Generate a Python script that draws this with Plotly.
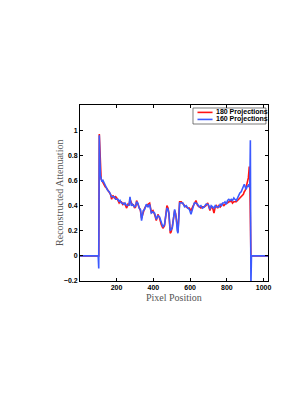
import plotly.graph_objects as go

# Pixel positions and reconstructed attenuation values
pixels = [1, 97, 100, 103, 106, 109, 112, 116, 120, 126,
          132, 138, 145, 152, 160, 167, 173, 180, 188, 195,
          201, 208, 214, 219, 226, 233, 240, 246, 255, 262,
          268, 273, 280, 287, 291, 298, 304, 309, 316, 323,
          330, 336, 345, 353, 362, 371, 380, 389, 398, 407,
          416, 425, 434, 443, 452, 461, 467, 474, 480, 485,
          492, 497, 503, 510, 516, 521, 525, 530, 534, 538,
          543, 552, 561, 570, 579, 588, 596, 605, 614, 623,
          632, 641, 650, 659, 668, 677, 686, 696, 702, 708,
          715, 723, 730, 737, 744, 750, 757, 764, 771, 777,
          784, 790, 797, 804, 811, 817, 824, 831, 838, 844,
          851, 858, 864, 871, 878, 884, 890, 895, 900, 904,
          908, 913, 917, 920, 922, 925, 928, 931, 934, 1024]

proj_180 = [0, 0, 0, 0.0, 0.97, 0.80, 0.66, 0.61, 0.60, 0.58,
            0.57, 0.55, 0.54, 0.52, 0.50, 0.49, 0.45, 0.48, 0.46, 0.47,
            0.46, 0.44, 0.42, 0.43, 0.43, 0.41, 0.42, 0.41, 0.38, 0.41,
            0.40, 0.45, 0.42, 0.40, 0.41, 0.38, 0.39, 0.44, 0.41, 0.39,
            0.36, 0.30, 0.35, 0.38, 0.40, 0.41, 0.42, 0.35, 0.36, 0.33,
            0.28, 0.33, 0.30, 0.25, 0.22, 0.24, 0.34, 0.40, 0.38, 0.33,
            0.18, 0.19, 0.23, 0.32, 0.36, 0.34, 0.29, 0.22, 0.19, 0.30,
            0.43, 0.43, 0.41, 0.40, 0.39, 0.38, 0.38, 0.36, 0.39, 0.41,
            0.44, 0.40, 0.39, 0.38, 0.39, 0.39, 0.40, 0.42, 0.39, 0.36,
            0.39, 0.38, 0.34, 0.39, 0.40, 0.38, 0.40, 0.39, 0.41, 0.41,
            0.40, 0.41, 0.42, 0.42, 0.43, 0.43, 0.44, 0.42, 0.43, 0.43,
            0.43, 0.44, 0.45, 0.46, 0.47, 0.48, 0.49, 0.51, 0.52, 0.54,
            0.56, 0.58, 0.62, 0.67, 0.71, 0.60, 0.0, 0.0, 0.0, 0.0]

proj_160 = [0, 0, 0, -0.10, 0.96, 0.78, 0.64, 0.62, 0.59, 0.60,
            0.58, 0.56, 0.53, 0.52, 0.51, 0.48, 0.47, 0.47, 0.47, 0.45,
            0.45, 0.45, 0.43, 0.44, 0.42, 0.42, 0.41, 0.42, 0.40, 0.40,
            0.41, 0.47, 0.40, 0.41, 0.40, 0.39, 0.40, 0.43, 0.42, 0.38,
            0.37, 0.28, 0.36, 0.37, 0.41, 0.39, 0.41, 0.34, 0.35, 0.34,
            0.29, 0.32, 0.31, 0.26, 0.23, 0.25, 0.32, 0.38, 0.37, 0.34,
            0.20, 0.21, 0.22, 0.30, 0.37, 0.33, 0.30, 0.20, 0.18, 0.28,
            0.42, 0.42, 0.42, 0.39, 0.40, 0.38, 0.37, 0.33, 0.38, 0.42,
            0.42, 0.41, 0.39, 0.40, 0.38, 0.39, 0.41, 0.41, 0.40, 0.37,
            0.40, 0.39, 0.38, 0.40, 0.39, 0.39, 0.39, 0.41, 0.40, 0.42,
            0.42, 0.43, 0.41, 0.44, 0.45, 0.44, 0.45, 0.44, 0.46, 0.45,
            0.44, 0.46, 0.48, 0.50, 0.51, 0.53, 0.55, 0.57, 0.55, 0.53,
            0.54, 0.56, 0.55, 0.57, 0.55, 0.55, 0.92, -0.25, 0.0, 0.0]

series_names = ["180 Projections", "160 Projections"]
series_colors = ["rgb(255,20,20)", "rgb(60,90,255)"]
x_ticks = [200, 400, 600, 800, 1000]
y_ticks = [-0.2, 0, 0.2, 0.4, 0.6, 0.8, 1]
y_tick_labels = ["\u22120.2", "0", "0.2", "0.4", "0.6", "0.8", "1"]

assert len(pixels) == len(proj_180) == len(proj_160)

fig = go.Figure()
for name, vals, col in zip(series_names, [proj_180, proj_160], series_colors):
    fig.add_trace(go.Scatter(x=pixels, y=vals, mode="lines", name=name,
                             line=dict(color=col, width=1.6), showlegend=False))

tickfont = dict(family="Liberation Sans, Arial, sans-serif", size=7, color="black", weight="bold")
legfont = dict(family="Liberation Sans, Arial, sans-serif", size=7, color="black", weight="bold")

# Hand-built compact legend (paper coordinates)
shapes = [dict(type="rect", xref="paper", yref="paper", x0=0.601, x1=0.989, y0=0.892, y1=0.983,
               line=dict(color="#444444", width=0.7), fillcolor="white", layer="above")]
annotations = []
row_y = [0.958, 0.918]
for name, col, ry in zip(series_names, series_colors, row_y):
    shapes.append(dict(type="line", xref="paper", yref="paper", x0=0.625, x1=0.705, y0=ry, y1=ry,
                       line=dict(color=col, width=1.6), layer="above"))
    annotations.append(dict(text=name, xref="paper", yref="paper", x=0.713, y=ry,
                            xanchor="left", yanchor="middle", showarrow=False, font=legfont))

annotations += [
    dict(text="Pixel Position", xref="paper", yref="paper", x=0.5, y=-0.093,
         xanchor="center", yanchor="middle", showarrow=False,
         font=dict(family="Liberation Serif, Times New Roman, serif", size=10, color="#555555")),
    dict(text="Reconstructed Attenuation", xref="paper", yref="paper", x=-0.112, y=0.5,
         xanchor="center", yanchor="middle", showarrow=False, textangle=-90,
         font=dict(family="Liberation Serif, Times New Roman, serif", size=10, color="#555555")),
]

fig.update_layout(
    width=305, height=394,
    margin=dict(l=72, r=45, t=97, b=121),
    paper_bgcolor="white", plot_bgcolor="white",
    showlegend=False,
    shapes=shapes,
    annotations=annotations,
    xaxis=dict(range=[1, 1024], tickvals=x_ticks, ticks="inside", ticklen=3,
               tickcolor="black", showline=True, linecolor="black", linewidth=0.8,
               mirror="ticks", showgrid=False, zeroline=False, tickfont=tickfont),
    yaxis=dict(range=[-0.2, 1.2], tickvals=y_ticks, ticktext=y_tick_labels,
               ticks="inside", ticklen=3, tickcolor="black", showline=True,
               linecolor="black", linewidth=0.8, mirror="ticks", showgrid=False,
               zeroline=False, tickfont=tickfont),
)

fig.write_html("out.html")
